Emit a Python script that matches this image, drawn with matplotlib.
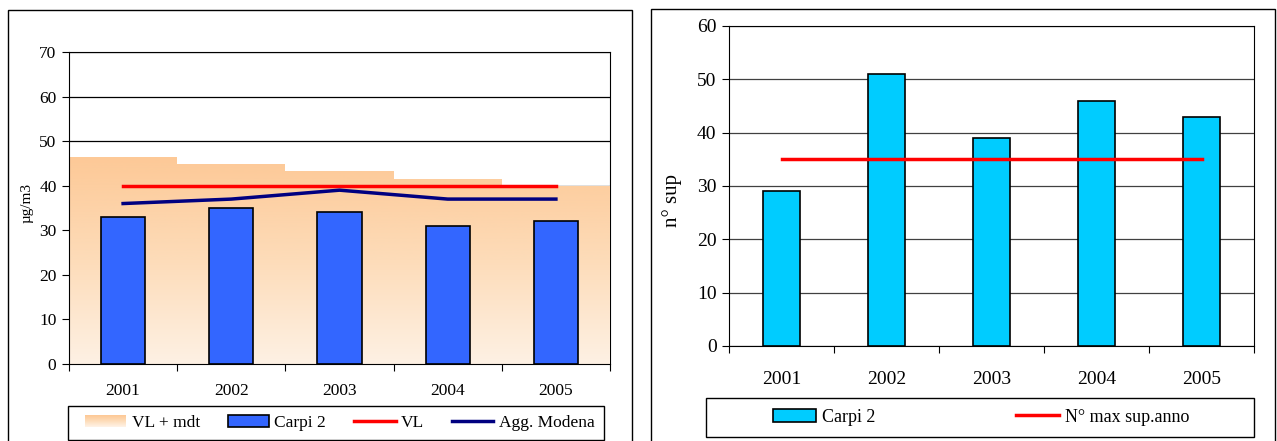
import numpy as np
import matplotlib
matplotlib.use("Agg")
import matplotlib.pyplot as plt
from matplotlib.patches import Rectangle, Patch
from matplotlib.lines import Line2D
from matplotlib.colors import LinearSegmentedColormap

plt.rcParams['font.family'] = ['Liberation Serif', 'DejaVu Serif']

# data
years = ["2001", "2002", "2003", "2004", "2005"]
vl_mdt = [46.4, 44.8, 43.2, 41.6, 40.0]
carpi2_conc = [33, 35, 34, 31, 32]
vl = [40, 40, 40, 40, 40]
agg_modena = [36, 37, 39, 37, 37]

carpi2_sup = [29, 51, 39, 46, 43]
max_sup = [35, 35, 35, 35, 35]

W, H = 1277, 441
fig = plt.figure(figsize=(W / 100, H / 100), dpi=100)

cmap = LinearSegmentedColormap.from_list('peach', ['#FEF1E4', '#FDDCB9', '#FDC997'])


def box(x0, y0, x1, y1):
    # pixel box (top-left origin) -> figure fraction
    return [x0 / W, 1 - y1 / H, (x1 - x0) / W, (y1 - y0) / H]


class GradientHandler:
    # legend swatch with a vertical peach gradient
    def legend_artist(self, legend, orig_handle, fontsize, handlebox):
        x0, y0 = handlebox.xdescent, handlebox.ydescent
        w, h = handlebox.width, handlebox.height
        n = 12
        for i in range(n):
            r = Rectangle((x0, y0 + h * i / n), w, h / n + 0.2,
                          facecolor=cmap(i / (n - 1)), edgecolor='none',
                          transform=handlebox.get_transform())
            handlebox.add_artist(r)
        return r


# panel frames
for x0, x1, y0 in [(8, 632, 10), (651, 1275, 9)]:
    fig.patches.append(Rectangle((x0 / W, -0.05), (x1 - x0) / W, 1 - y0 / H + 0.05,
                                 transform=fig.transFigure, fill=False,
                                 edgecolor='black', linewidth=1.0))

x = np.arange(len(years))
edges = np.arange(len(years) + 1) - 0.5

# ---------------- left chart ----------------
ax1 = fig.add_axes(box(69, 52, 610, 364))
ax1.yaxis.grid(True, color='black', linewidth=0.9, zorder=0)
ax1.set_axisbelow(True)

area = ax1.fill_between(edges, vl_mdt + [vl_mdt[-1]], step='post',
                        facecolor='none', edgecolor='none', zorder=2)
grad = np.linspace(0, 1, 256).reshape(-1, 1)
img = ax1.imshow(grad, cmap=cmap, origin='lower', aspect='auto',
                 extent=(-0.5, 4.5, 0, max(vl_mdt)), zorder=2)
img.set_clip_path(area.get_paths()[0], transform=ax1.transData)
ax1.set_xlim(-0.5, 4.5)
ax1.set_ylim(0, 70)
ax1.set_yticks(range(0, 71, 10))

ax1.bar(x, carpi2_conc, width=0.41, color='#3366FF', edgecolor='black',
        linewidth=1.2, zorder=3)
ax1.plot(x, vl, color='#FF0000', linewidth=2.5, zorder=4)
ax1.plot(x, agg_modena, color='#000080', linewidth=2.5, zorder=4)

for s in ['top', 'right']:
    ax1.spines[s].set_zorder(1)
ax1.set_xticks(edges)
ax1.set_xticklabels([])
ax1.set_xticks(x, minor=True)
ax1.set_xticklabels(years, minor=True, fontsize=12.5)
ax1.tick_params(axis='x', which='minor', length=0, pad=14)
ax1.tick_params(axis='x', which='major', length=5, direction='out')
ax1.tick_params(axis='y', labelsize=12.5, length=5, pad=4)
ax1.set_ylabel("µg/m3", fontsize=11, labelpad=2)
ax1.yaxis.set_label_coords(-0.066, 0.515)

# legend frame + entries
ax1.add_patch(Rectangle((-0.002, -0.245), 0.991, 0.11, transform=ax1.transAxes,
                        fill=False, edgecolor='black', linewidth=1.0, clip_on=False))
handles1 = [Patch(facecolor='#FDD6AE', edgecolor='none'),
            Patch(facecolor='#3366FF', edgecolor='black', linewidth=1.2),
            Line2D([], [], color='#FF0000', linewidth=2.5),
            Line2D([], [], color='#000080', linewidth=2.5)]
ax1.legend(handles1, ["VL + mdt", "Carpi 2", "VL", "Agg. Modena"],
           ncol=4, loc='center', bbox_to_anchor=(0.5, -0.19),
           frameon=False, fontsize=12.5, handlelength=2.4, handletextpad=0.3,
           columnspacing=1.6, borderaxespad=0,
           handler_map={handles1[0]: GradientHandler()})

# ---------------- right chart ----------------
ax2 = fig.add_axes(box(729, 26, 1254, 346))
ax2.set_xlim(-0.5, 4.5)
ax2.set_ylim(0, 60)
ax2.set_yticks(range(0, 61, 10))
ax2.yaxis.grid(True, color='#404040', linewidth=0.9, zorder=0)
ax2.set_axisbelow(True)

ax2.bar(x, carpi2_sup, width=0.36, color='#00CCFF', edgecolor='black',
        linewidth=1.2, zorder=3)
ax2.plot(x, max_sup, color='#FF0000', linewidth=2.5, zorder=4)

ax2.set_xticks(edges)
ax2.set_xticklabels([])
ax2.set_xticks(x, minor=True)
ax2.set_xticklabels(years, minor=True, fontsize=14)
ax2.tick_params(axis='x', which='minor', length=0, pad=18)
ax2.tick_params(axis='x', which='major', length=5, direction='out')
ax2.tick_params(axis='y', labelsize=14, length=5, pad=4)
ax2.set_ylabel("n° sup", fontsize=15)
ax2.yaxis.set_label_coords(-0.089, 0.456)

ax2.add_patch(Rectangle((-0.044, -0.284), 1.044, 0.1225, transform=ax2.transAxes,
                        fill=False, edgecolor='black', linewidth=1.0, clip_on=False))
handles2 = [Patch(facecolor='#00CCFF', edgecolor='black', linewidth=1.2),
            Line2D([], [], color='#FF0000', linewidth=2.5)]
ax2.legend(handles2, ["Carpi 2", "N° max sup.anno"],
           ncol=2, loc='center', bbox_to_anchor=(0.48, -0.222),
           frameon=False, fontsize=13, handlelength=2.4, handletextpad=0.3,
           columnspacing=7.8, borderaxespad=0)

fig.savefig("out.png", dpi=100)
